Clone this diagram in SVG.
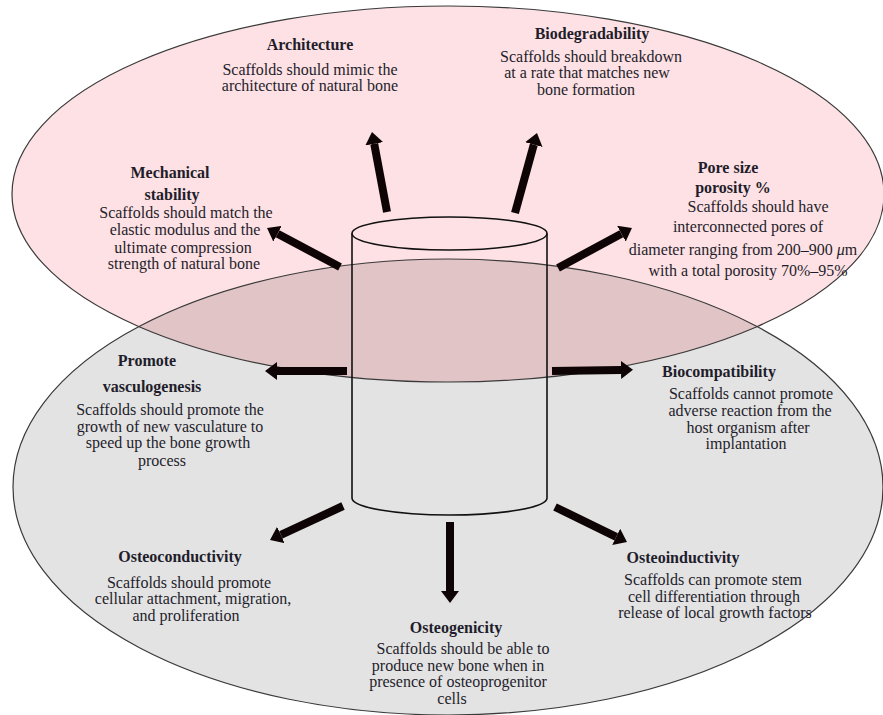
<svg xmlns="http://www.w3.org/2000/svg" width="883" height="715" viewBox="0 0 883 715">
<style>
text{font-family:"Liberation Serif","Times New Roman",serif;fill:#1f1d2b;text-anchor:middle}
.t{font-size:16px;font-weight:bold}
.b{font-size:16px}
.outline{fill:none;stroke:#3a3a3a;stroke-width:1.2}
.arr{stroke:#0e0406;stroke-width:8;fill:none;marker-end:url(#head)}
.cyl{fill:none;stroke:#111;stroke-width:1.6}
</style>
<defs>
<marker id="head" viewBox="0 0 12 18" markerWidth="12" markerHeight="18" markerUnits="userSpaceOnUse" refX="0" refY="9" orient="auto">
<path d="M0,0 L12,9 L0,18 z" fill="#0e0406"/>
</marker>
<clipPath id="pinkClip"><ellipse cx="448" cy="194" rx="436" ry="188"/></clipPath>
</defs>
<rect width="883" height="715" fill="#ffffff"/>
<g id="background">
<ellipse cx="448" cy="487" rx="435" ry="228" fill="#e3e3e3"/>
<ellipse cx="448" cy="194" rx="436" ry="188" fill="#fde1e4"/>
<ellipse cx="448" cy="487" rx="435" ry="228" fill="#e1c4c6" clip-path="url(#pinkClip)"/>
<ellipse class="outline" cx="448" cy="487" rx="435" ry="228"/>
<ellipse class="outline" cx="448" cy="194" rx="436" ry="188"/>
</g>
<g id="connectors">
<line class="arr" x1="387" y1="212" x2="374.2" y2="143.8"/>
<line class="arr" x1="515" y1="213" x2="533.8" y2="144.6"/>
<line class="arr" x1="340" y1="267" x2="277.6" y2="233.7"/>
<line class="arr" x1="558" y1="268" x2="621.4" y2="233.7"/>
<line class="arr" x1="347" y1="371" x2="277" y2="371"/>
<line class="arr" x1="552" y1="371" x2="621" y2="370"/>
<line class="arr" x1="343" y1="506" x2="280.9" y2="534.9"/>
<line class="arr" x1="450" y1="522" x2="450" y2="591"/>
<line class="arr" x1="555" y1="507" x2="616.2" y2="536.8"/>
</g>
<g id="scaffold">
<ellipse class="cyl" cx="449.5" cy="233.5" rx="97.5" ry="16.5"/>
<line class="cyl" x1="352" y1="233.5" x2="352" y2="498"/>
<line class="cyl" x1="547" y1="233.5" x2="547" y2="498"/>
<path class="cyl" d="M352,498 A97.5,17 0 0 0 547,498"/>
</g>
<g id="architecture">
<text class="t" x="310" y="50">Architecture</text>
<text class="b" x="310" y="75">Scaffolds should mimic the</text>
<text class="b" x="310" y="91">architecture of natural bone</text>
</g>
<g id="biodegradability">
<text class="t" x="592" y="39">Biodegradability</text>
<text class="b" x="591" y="62">Scaffolds should breakdown</text>
<text class="b" x="587" y="78">at a rate that matches new</text>
<text class="b" x="586" y="95">bone formation</text>
</g>
<g id="mechanical-stability">
<text class="t" x="170" y="178">Mechanical</text>
<text class="t" x="172" y="200">stability</text>
<text class="b" x="186" y="218">Scaffolds should match the</text>
<text class="b" x="185" y="235">elastic modulus and the</text>
<text class="b" x="183" y="253">ultimate compression</text>
<text class="b" x="184" y="269">strength of natural bone</text>
</g>
<g id="pore-size">
<text class="t" x="728" y="173">Pore size</text>
<text class="t" x="733" y="193">porosity %</text>
<text class="b" x="758" y="212">Scaffolds should have</text>
<text class="b" x="748" y="232">interconnected pores of</text>
<text class="b" x="743" y="255">diameter ranging from 200–900 <tspan font-style="italic">μ</tspan>m</text>
<text class="b" x="748" y="276">with a total porosity 70%–95%</text>
</g>
<g id="vasculogenesis">
<text class="t" x="147" y="366">Promote</text>
<text class="t" x="152" y="392">vasculogenesis</text>
<text class="b" x="170" y="415">Scaffolds should promote the</text>
<text class="b" x="170" y="432">growth of new vasculature to</text>
<text class="b" x="168" y="448">speed up the bone growth</text>
<text class="b" x="162" y="466">process</text>
</g>
<g id="biocompatibility">
<text class="t" x="719" y="377">Biocompatibility</text>
<text class="b" x="751" y="399">Scaffolds cannot promote</text>
<text class="b" x="750" y="416">adverse reaction from the</text>
<text class="b" x="748" y="433">host organism after</text>
<text class="b" x="746" y="449">implantation</text>
</g>
<g id="osteoconductivity">
<text class="t" x="180" y="562">Osteoconductivity</text>
<text class="b" x="189" y="588">Scaffolds should promote</text>
<text class="b" x="193" y="604">cellular attachment, migration,</text>
<text class="b" x="186" y="621">and proliferation</text>
</g>
<g id="osteoinductivity">
<text class="t" x="683" y="563">Osteoinductivity</text>
<text class="b" x="713" y="585">Scaffolds can promote stem</text>
<text class="b" x="714" y="602">cell differentiation through</text>
<text class="b" x="715" y="618">release of local growth factors</text>
</g>
<g id="osteogenicity">
<text class="t" x="456" y="633">Osteogenicity</text>
<text class="b" x="463" y="654">Scaffolds should be able to</text>
<text class="b" x="458" y="671">produce new bone when in</text>
<text class="b" x="458" y="687">presence of osteoprogenitor</text>
<text class="b" x="452" y="704">cells</text>
</g>
</svg>
